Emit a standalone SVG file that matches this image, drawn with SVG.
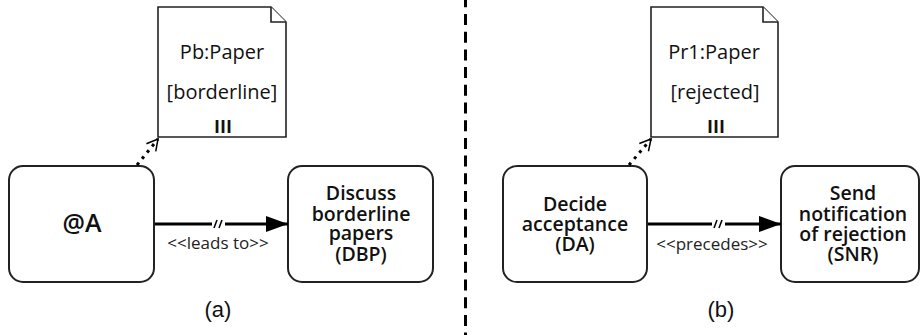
<svg xmlns="http://www.w3.org/2000/svg" width="920" height="335" viewBox="0 0 920 335">
<defs>
<style>
.box{fill:#fff;stroke:#222;stroke-width:2}
.doc{fill:#fff;stroke:#222;stroke-width:1.6}
.nt{font-family:"Open Sans","DejaVu Sans",sans-serif;font-weight:600;font-size:19.5px;fill:#111;text-anchor:middle}
.big{font-size:25px}
.dt{font-family:"Open Sans","DejaVu Sans",sans-serif;font-size:20px;fill:#111;text-anchor:middle}
.iii{font-weight:bold;font-size:18px}
.lt{font-family:"Open Sans","DejaVu Sans",sans-serif;font-size:17px;fill:#222;text-anchor:middle}
.cap{font-family:"Liberation Sans",Arial,sans-serif;font-size:22px;fill:#111;text-anchor:middle}
.flow{stroke:#000;stroke-width:3;fill:none}
.assoc{stroke:#000;stroke-width:3;fill:none;stroke-dasharray:3 5}
.slash{stroke:#000;stroke-width:1.6}
</style>
<marker id="tri" markerWidth="22" markerHeight="16" refX="22" refY="8" orient="auto" markerUnits="userSpaceOnUse">
<path d="M0,0 L22,8 L0,16 Z" fill="#000"/>
</marker>
<marker id="vee" markerWidth="14" markerHeight="14" refX="12" refY="7" orient="auto" markerUnits="userSpaceOnUse">
<path d="M1,1 L12,7 L1,13" fill="none" stroke="#000" stroke-width="1.5"/>
</marker>
</defs>
<rect width="920" height="335" fill="#fff"/>
<line x1="465.5" y1="0" x2="465.5" y2="335" stroke="#000" stroke-width="3" stroke-dasharray="11 6.7" stroke-dashoffset="3.7"/>
<g id="doc-pb">
<path class="doc" d="M158,7 H271 L286,22 V137 H158 Z"/>
<path class="doc" d="M271,7 V22 H286" fill="none"/>
<text class="dt" x="222" y="59">Pb:Paper</text>
<text class="dt" x="222" y="99">[borderline]</text>
<text class="dt iii" x="223" y="133">III</text>
</g>
<g id="node-a">
<rect class="box" x="9" y="166" width="145" height="116" rx="14"/>
<text class="nt big" x="82" y="232">@A</text>
</g>
<g id="node-dbp">
<rect class="box" x="288" y="166" width="145" height="116" rx="14"/>
<text class="nt" x="361" y="200">Discuss</text>
<text class="nt" x="361" y="221">borderline</text>
<text class="nt" x="361" y="240">papers</text>
<text class="nt" x="361" y="261">(DBP)</text>
</g>
<g id="doc-pr1">
<path class="doc" d="M651,7 H763 L778,22 V137 H651 Z"/>
<path class="doc" d="M763,7 V22 H778" fill="none"/>
<text class="dt" x="714" y="59">Pr1:Paper</text>
<text class="dt" x="715" y="99">[rejected]</text>
<text class="dt iii" x="716" y="133">III</text>
</g>
<g id="node-da">
<rect class="box" x="503" y="166" width="144" height="116" rx="14"/>
<text class="nt" x="575" y="211">Decide</text>
<text class="nt" x="575" y="231">acceptance</text>
<text class="nt" x="575" y="251">(DA)</text>
</g>
<g id="node-snr">
<rect class="box" x="781" y="166" width="138" height="116" rx="14"/>
<text class="nt" x="853" y="200">Send</text>
<text class="nt" x="853" y="221">notification</text>
<text class="nt" x="853" y="241">of rejection</text>
<text class="nt" x="853" y="261">(SNR)</text>
</g>
<g id="connectors">
<line class="assoc" x1="137" y1="165" x2="158" y2="139" marker-end="url(#vee)"/>
<path class="flow" d="M155,224 H212 M225,224 H288" marker-end="url(#tri)"/>
<line class="slash" x1="214" y1="228" x2="217" y2="220"/>
<line class="slash" x1="219" y1="228" x2="222" y2="220"/>
<text class="lt" x="218" y="249">&lt;&lt;leads to&gt;&gt;</text>
<line class="assoc" x1="629" y1="165" x2="651" y2="139" marker-end="url(#vee)"/>
<path class="flow" d="M648,224 H712 M725,224 H781" marker-end="url(#tri)"/>
<line class="slash" x1="714" y1="228" x2="717" y2="220"/>
<line class="slash" x1="719" y1="228" x2="722" y2="220"/>
<text class="lt" x="712" y="250">&lt;&lt;precedes&gt;&gt;</text>
</g>
<text class="cap" x="218" y="317">(a)</text>
<text class="cap" x="721" y="317">(b)</text>
</svg>
